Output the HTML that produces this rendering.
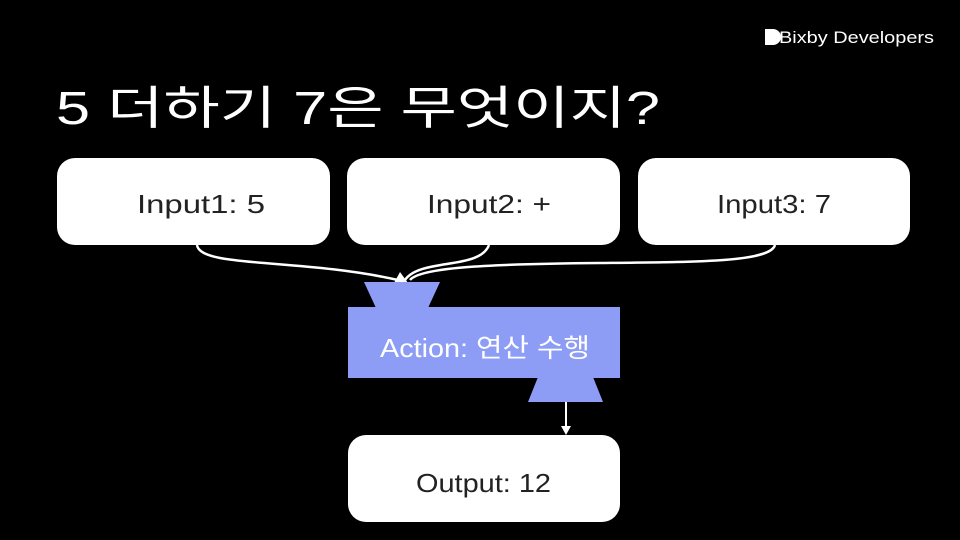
<!DOCTYPE html>
<html><head><meta charset="utf-8"><style>
body{margin:0;width:960px;height:540px;background:#000;overflow:hidden;font-family:"Liberation Sans","Noto Sans CJK KR",sans-serif;}
</style></head><body>
<svg width="960" height="540" viewBox="0 0 960 540" xmlns="http://www.w3.org/2000/svg" style="position:absolute;left:0;top:0">
<g font-family="Liberation Sans, Noto Sans CJK KR, sans-serif">
<text x="56" y="124" fill="#fff" font-size="46" textLength="604" lengthAdjust="spacingAndGlyphs">5 더하기 7은 무엇이지?</text>
<path d="M765 29 h8 a8 8 0 0 1 0 16 h-8z" fill="#fff"/>
<text x="779" y="43" fill="#fff" font-size="17" textLength="155" lengthAdjust="spacingAndGlyphs">Bixby Developers</text>
<g fill="#fff">
<rect x="57" y="158" width="273" height="87" rx="18"/>
<rect x="347" y="158" width="273" height="87" rx="18"/>
<rect x="638" y="158" width="272" height="87" rx="18"/>
<rect x="348" y="435" width="272" height="87" rx="18"/>
</g>
<g fill="#222" font-size="26">
<text x="137" y="213" textLength="128" lengthAdjust="spacingAndGlyphs">Input1: 5</text>
<text x="427" y="213" textLength="124" lengthAdjust="spacingAndGlyphs">Input2: +</text>
<text x="717" y="213" textLength="114" lengthAdjust="spacingAndGlyphs">Input3: 7</text>
<text x="416" y="492" textLength="135" lengthAdjust="spacingAndGlyphs">Output: 12</text>
</g>
<g fill="none" stroke="#fff" stroke-width="2.5">
<path d="M197 245 C200 268 300 258 398 280"/>
<path d="M489 245 C480 270 420 258 405 280"/>
<path d="M775 245 C770 262 700 262 600 263 C480 264 420 268 410 280"/>
<path d="M566 402 L566 428" stroke-width="2"/>
</g>
<polygon points="400,272 394,283 408,283" fill="#fff"/>
<polygon points="566,435 561,426 571,426" fill="#fff"/>
<g fill="#8d9cf5">
<polygon points="364,282 440,282 428,308 376,308"/>
<rect x="348" y="307" width="272" height="71"/>
<polygon points="538,377 593,377 603,402 528,402"/>
</g>
<text x="380" y="357" fill="#fff" font-size="26" textLength="210" lengthAdjust="spacingAndGlyphs">Action: 연산 수행</text>
</g>
</svg>
</body></html>
